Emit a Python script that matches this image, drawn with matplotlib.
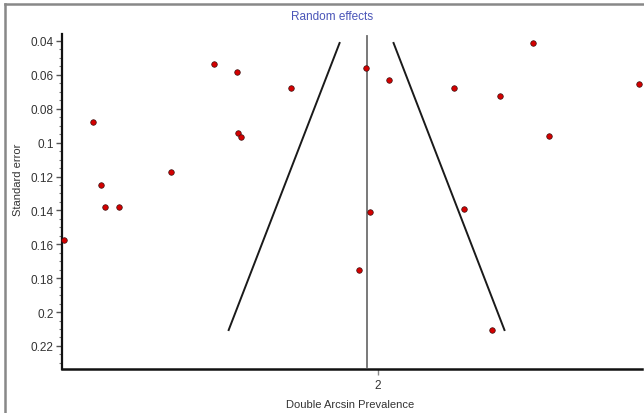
import matplotlib
matplotlib.use("Agg")
import matplotlib.pyplot as plt
import numpy as np
from matplotlib.lines import Line2D
from matplotlib.ticker import MultipleLocator

plt.rcParams['font.family'] = ['Liberation Sans', 'DejaVu Sans']

# Study effects (double arcsine prevalence) and their standard errors
effect = [1.060, 1.147, 1.171, 1.183, 1.225, 1.380, 1.509, 1.578, 1.581, 1.590,
          1.740, 1.964, 2.033, 1.976, 1.943, 2.228, 2.365, 2.464, 2.512, 2.257,
          2.341, 2.781]
std_err = [0.1574, 0.0878, 0.1250, 0.1380, 0.1380, 0.1173, 0.0536, 0.0583, 0.0943, 0.0967,
           0.0677, 0.0559, 0.0630, 0.1409, 0.1752, 0.0677, 0.0725, 0.0412, 0.0961, 0.1392,
           0.2106, 0.0654]
pooled = 1.9656
y_ticks = [0.04, 0.06, 0.08, 0.1, 0.12, 0.14, 0.16, 0.18, 0.2, 0.22]
y_tick_labels = ["0.04", "0.06", "0.08", "0.1", "0.12", "0.14", "0.16", "0.18", "0.2", "0.22"]
x_ticks = [2]
x_tick_labels = ["2"]

fig = plt.figure(figsize=(6.44, 4.14), dpi=100)
ax = fig.add_axes([62/644, 1-370/414, (642-62)/644, (370-35)/414])

ax.set_xlim(1.054, 2.790)
ax.set_ylim(0.2336, 0.0359)

# funnel
se_min, se_max = min(std_err), max(std_err)
ax.plot([pooled - 1.96*se_min, pooled - 1.96*se_max], [se_min, se_max], color='#1a1a1a', lw=1.4)
ax.plot([pooled + 1.96*se_min, pooled + 1.96*se_max], [se_min, se_max], color='#1a1a1a', lw=1.4)
ax.plot([pooled, pooled], [0.037, 0.2325], color='#6e6e6e', lw=1.3)

ax.scatter(effect, std_err, s=16, c='#d40000', edgecolors='#3a1010', linewidths=0.5, zorder=3, clip_on=False)

for s in ['top', 'right']:
    ax.spines[s].set_visible(False)
ax.spines['left'].set_linewidth(1.6)
ax.spines['bottom'].set_linewidth(1.8)
ax.spines['left'].set_color('#111111')
ax.spines['bottom'].set_color('#111111')

ax.set_yticks(y_ticks)
ax.set_yticklabels(y_tick_labels)
ax.yaxis.set_minor_locator(MultipleLocator(0.005))
ax.set_xticks(x_ticks)
ax.set_xticklabels(x_tick_labels)
ax.tick_params(axis='y', which='major', length=4, width=1, color='#555555', labelsize=8.5, labelcolor='#333333', pad=2)
ax.tick_params(axis='y', which='minor', length=2, width=0.8, color='#777777')
ax.tick_params(axis='x', which='major', length=4, width=1, color='#888888', labelsize=8.5, labelcolor='#333333', pad=3)

ax.set_ylabel("Standard error", fontsize=8, color='#333333')
ax.yaxis.set_label_coords((23-62)/580, (370-180)/335)
ax.set_xlabel("Double Arcsin Prevalence", fontsize=8, color='#333333', labelpad=3)
ax.xaxis.set_label_coords((350-62)/580, -(400-370)/335)

fig.text(332/644, 1-17/414, "Random effects", ha='center', va='center', fontsize=8.5, color='#4a55b8')

# outer border (top and left)
fig.add_artist(Line2D([5/644, 5/644], [0, 1-5/414], transform=fig.transFigure, color='#888888', lw=1.8))
fig.add_artist(Line2D([5/644, 1], [1-5/414, 1-5/414], transform=fig.transFigure, color='#888888', lw=1.8))

fig.savefig("out.png", dpi=100)
